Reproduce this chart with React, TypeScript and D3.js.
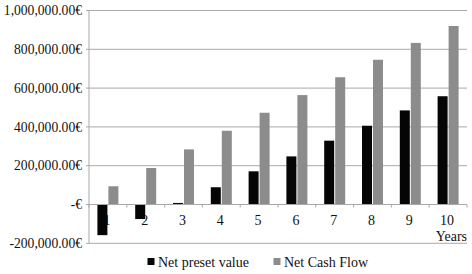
import React from "react";
import * as d3 from "d3";

const years = ["1", "2", "3", "4", "5", "6", "7", "8", "9", "10"];
const netPresentValue = [-158000, -75000, 8000, 89000, 171000, 248000, 329000, 406000, 485000, 558000];
const netCashFlow = [94000, 188000, 284000, 380000, 473000, 564000, 656000, 746000, 833000, 920000];
const yTicks = [-200000, 0, 200000, 400000, 600000, 800000, 1000000];
const seriesNames = ["Net preset value", "Net Cash Flow"];

const W = 472, H = 274;
const left = 89, right = 467, top = 10.5, bottom = 243.3;
const BLACK = "#050505", GRAY = "#8c8c8c", GRID = "#a9a9a9";
const ts: React.CSSProperties = { fontFamily: "Liberation Serif", fontSize: "13.6px" };
const ls: React.CSSProperties = { fontFamily: "Liberation Serif", fontSize: "14px" };

function fmt(v: number) {
  if (v === 0) return "-€";
  return d3.format(",.2f")(v).replace("−", "-") + "€";
}

export default function App() {
  const y = d3.scaleLinear().domain([-200000, 1000000]).range([bottom, top]);
  const x = d3.scaleBand().domain(years).range([left, right]).padding(0);
  const bw = 10;
  const y0 = y(0);
  return (
    <svg width={W} height={H} style={{ position: "absolute", left: 0, top: 0, background: "#fff" }}>
      {yTicks.map((t) => (
        <g key={t}>
          <line x1={left - 3} x2={right} y1={y(t)} y2={y(t)} stroke={GRID} strokeWidth={1} />
          <text x={82} y={y(t)} dy="0.35em" textAnchor="end" style={ts} fill="#111">
            {fmt(t)}
          </text>
        </g>
      ))}
      <line x1={left} x2={left} y1={top} y2={bottom} stroke={GRID} strokeWidth={1} />
      {years.map((c) => (
        <text key={c} x={x(c)! + x.bandwidth() / 2 - 1} y={y0 + 16} dy="0.35em" textAnchor="middle" style={ls} fill="#111">
          {c}
        </text>
      ))}
      {d3.range(years.length + 1).map((i) => (
        <line key={i} x1={left + i * x.bandwidth()} x2={left + i * x.bandwidth()} y1={y0} y2={y0 + 3} stroke={GRID} />
      ))}
      {years.map((c, i) => {
        const cx = x(c)! + x.bandwidth() / 2;
        const v = netPresentValue[i];
        return (
          <g key={c}>
            <rect x={cx - bw - 0.5} width={bw} y={Math.min(y(v), y0)} height={Math.abs(y(v) - y0)} fill={BLACK} />
            <rect x={cx + 0.5} width={bw} y={y(netCashFlow[i])} height={y0 - y(netCashFlow[i])} fill={GRAY} />
          </g>
        );
      })}
      <line x1={left} x2={right} y1={y0} y2={y0} stroke={GRID} strokeWidth={1} />
      <text x={right} y={236} dy="0.35em" textAnchor="end" style={ls} fill="#111">Years</text>
      <rect x={147.5} y={258} width={7} height={7} fill={BLACK} />
      <text x={158} y={262} dy="0.35em" style={ls} fill="#111">{seriesNames[0]}</text>
      <rect x={273.5} y={258} width={7} height={7} fill={GRAY} />
      <text x={284} y={262} dy="0.35em" style={ls} fill="#111">{seriesNames[1]}</text>
    </svg>
  );
}
